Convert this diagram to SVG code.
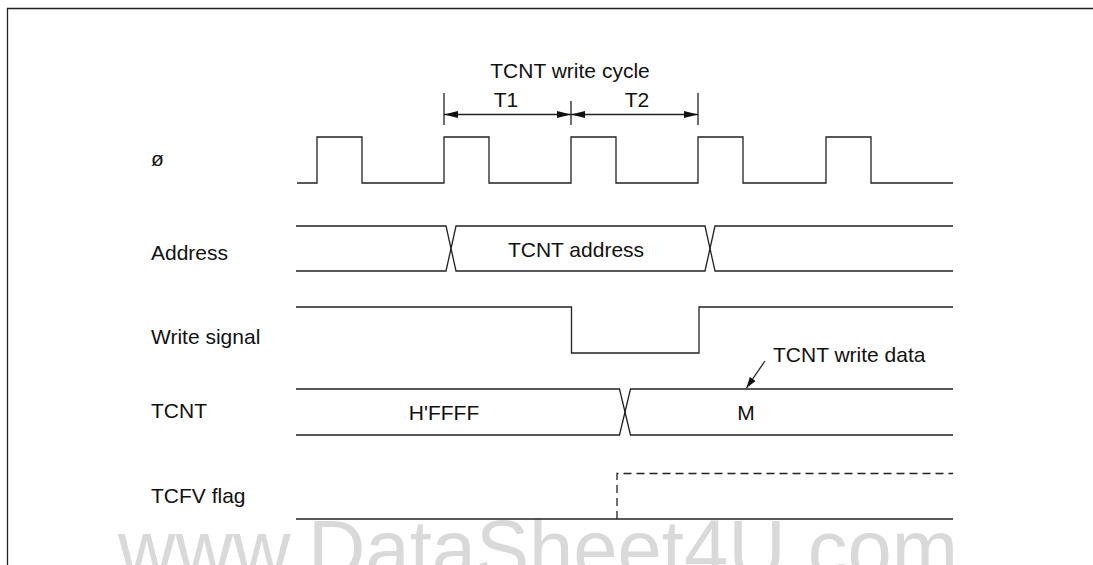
<svg xmlns="http://www.w3.org/2000/svg" width="1093" height="565" viewBox="0 0 1093 565">
  <style>
    .w { fill: none; stroke: #222; stroke-width: 1.3; stroke-linejoin: miter; }
    .d { fill: none; stroke: #222; stroke-width: 1.3; stroke-dasharray: 8 5; }
    .t { font-family: "Liberation Sans", Arial, sans-serif; font-size: 21px; fill: #111; }
    .c { text-anchor: middle; }
    .wm { font-family: "Liberation Sans", Arial, sans-serif; font-size: 81px; fill: #d9d9d9; }
  </style>
  <defs>
    <marker id="ah" viewBox="0 0 14 8" refX="14" refY="4" markerWidth="14" markerHeight="8" markerUnits="userSpaceOnUse" orient="auto-start-reverse">
      <path d="M0,0.5 L14,4 L0,7.5 Z" fill="#111"/>
    </marker>
    <marker id="ah2" viewBox="0 0 11 8" refX="11" refY="4" markerWidth="11" markerHeight="8" markerUnits="userSpaceOnUse" orient="auto">
      <path d="M0,0.5 L11,4 L0,7.5 Z" fill="#111"/>
    </marker>
  </defs>
  <rect width="1093" height="565" fill="#fff"/>
  <g id="watermark">
    <text class="wm" x="118" y="577" textLength="840" lengthAdjust="spacingAndGlyphs">www.DataSheet4U.com</text>
  </g>
  <g id="frame">
    <path class="w" d="M7.5,565 V8.5 H1093" stroke="#000"/>
  </g>
  <g id="labels">
    <text class="t" x="151" y="166">ø</text>
    <text class="t" x="151" y="260">Address</text>
    <text class="t" x="151" y="344">Write signal</text>
    <text class="t" x="151" y="418">TCNT</text>
    <text class="t" x="151" y="503">TCFV flag</text>
  </g>
  <g id="cycle">
    <text class="t c" x="570" y="78">TCNT write cycle</text>
    <text class="t c" x="506" y="107">T1</text>
    <text class="t c" x="637" y="107">T2</text>
    <path class="w" d="M444,93 V125 M571,101 V125 M698,93 V125"/>
  </g>
  <g id="clock">
    <path class="w" d="M297,183 H317 V137 H362 V183 H444 V137 H489 V183 H571 V137 H616 V183 H698 V137 H743 V183 H826 V137 H871 V183 H953"/>
  </g>
  <g id="address">
    <path class="w" d="M296,226 H446 L456,271 H705 L715,226 H953"/>
    <path class="w" d="M296,271 H446 L456,226 H705 L715,271 H953"/>
    <text class="t c" x="576" y="257">TCNT address</text>
  </g>
  <g id="write">
    <path class="w" d="M296,307 H571.5 V353 H699 V307 H953"/>
  </g>
  <g id="tcnt">
    <path class="w" d="M296,389 H619.5 L630.5,435 H953"/>
    <path class="w" d="M296,435 H619.5 L630.5,389 H953"/>
    <text class="t c" x="444" y="420">H'FFFF</text>
    <text class="t c" x="746" y="420">M</text>
    <text class="t" x="773" y="362">TCNT write data</text>
  </g>
  <g id="tcfv">
    <path class="w" d="M296,519 H953"/>
    <path class="d" d="M617,519 V473.5 H953"/>
  </g>
  <g id="connectors">
    <path class="w" d="M444,114.5 H571" marker-start="url(#ah)" marker-end="url(#ah)"/>
    <path class="w" d="M571,114.5 H698" marker-start="url(#ah)" marker-end="url(#ah)"/>
    <path class="w" d="M765,361 L746.5,388" marker-end="url(#ah2)"/>
  </g>
</svg>
